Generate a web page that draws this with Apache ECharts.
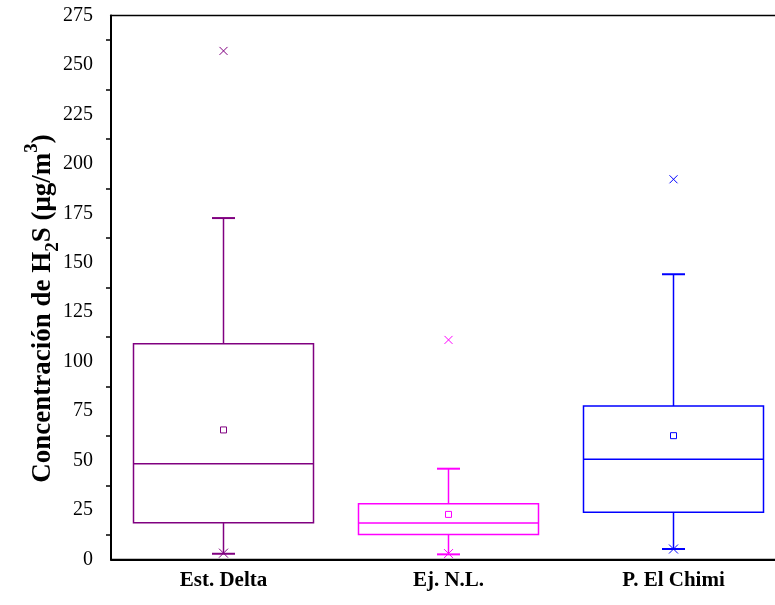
<!DOCTYPE html>
<html>
<head>
<meta charset="utf-8">
<script src="https://cdn.jsdelivr.net/npm/echarts@6/dist/echarts.min.js"></script>
<style>html,body{margin:0;padding:0;background:#fff;}#c{width:775px;height:605px;}</style>
</head>
<body>
<div id="c"></div>
<script>
const categories = ['Est. Delta', 'Ej. N.L.', 'P. El Chimi'];
const whiskerLow = [2.9, 2.6, 5.3];
const q1 = [18.6, 12.7, 23.9];
const median = [48.4, 18.5, 50.7];
const q3 = [109.1, 28.2, 77.6];
const whiskerHigh = [172.6, 45.9, 144.2];
const means = [65.5, 22.8, 62.6];
const outliers = [257.1, 111.0, 192.2];
const lowMarks = [3.2, 3.0, 5.3];
const yTicks = [0, 25, 50, 75, 100, 125, 150, 175, 200, 225, 250, 275];

const boxColors = ['#800080', '#FF00FF', '#0000FF'];
const serif = '"Liberation Serif", "Times New Roman", serif';

const data = categories.map((c, i) => [i, whiskerLow[i], q1[i], median[i], q3[i], whiskerHigh[i], means[i], outliers[i], lowMarks[i]]);

function renderItem(params, api) {
  const i = api.value(0);
  const col = boxColors[params.dataIndex];
  const x = api.coord([i, 0])[0];
  const y = k => api.coord([i, api.value(k)])[1];
  const yLo = y(1), yQ1 = y(2), yMed = y(3), yQ3 = y(4), yHi = y(5), yMean = y(6), yOut = y(7), yLowM = y(8);
  const bw = api.size([1, 0])[0] * 0.8;
  const cap = 11.5;
  const lw = 1.5;
  const st = {stroke: col, lineWidth: lw, fill: null};
  const line = (x1, y1, x2, y2, w) => ({type: 'line', shape: {x1, y1, x2, y2}, style: {stroke: col, lineWidth: w || lw}});
  const cross = (cx, cy, s) => [
    line(cx - s, cy - s, cx + s, cy + s, 1),
    line(cx - s, cy + s, cx + s, cy - s, 1)
  ];
  return {
    type: 'group',
    children: [
      {type: 'rect', shape: {x: x - bw / 2, y: yQ3, width: bw, height: yQ1 - yQ3}, style: st},
      line(x - bw / 2, yMed, x + bw / 2, yMed),
      line(x, yQ3, x, yHi),
      line(x, yQ1, x, yLo),
      line(x - cap, yHi, x + cap, yHi, 2),
      line(x - cap, yLo, x + cap, yLo, 2),
      {type: 'rect', shape: {x: x - 3, y: yMean - 3, width: 6, height: 6}, style: {stroke: col, lineWidth: 1, fill: null}},
      ...cross(x, yOut, 4),
      ...cross(x, yLowM, 4.5)
    ]
  };
}

const chart = echarts.init(document.getElementById('c'));
chart.setOption({
  animation: false,
  backgroundColor: '#fff',
  grid: {left: 111, top: 15.5, width: 675, bottom: 45.5, outerBoundsMode: 'none', containLabel: false,
    show: true, borderColor: '#000', borderWidth: 1.5, backgroundColor: 'transparent'},
  xAxis: {
    type: 'category',
    data: categories,
    boundaryGap: true,
    axisLine: {lineStyle: {color: '#000', width: 2}},
    axisTick: {alignWithLabel: true, length: 10, lineStyle: {color: '#000', width: 2}},
    axisLabel: {color: '#000', fontFamily: serif, fontWeight: 'bold', fontSize: 21, margin: 11},
    splitLine: {show: false}
  },
  yAxis: {
    type: 'value',
    min: 0, max: 275, interval: 25,
    axisLine: {show: true, lineStyle: {color: '#000', width: 2}},
    axisTick: {length: 9, lineStyle: {color: '#000', width: 1.5}},
    minorTick: {show: true, splitNumber: 2, length: 5, lineStyle: {color: '#000', width: 1.5}},
    axisLabel: {color: '#000', fontFamily: serif, fontSize: 20, margin: 18,
      formatter: v => yTicks.includes(v) ? String(v) : ''},
    splitLine: {show: false},
    name: '{n|Concentración de H}{sub|2}{n|S (μg/m}{sup|3}{n|)}',
    nameLocation: 'middle',
    nameGap: 48,
    nameMoveOverlap: false,
    nameRotate: 90,
    nameTextStyle: {
      padding: [0, 42, 0, 0],
      rich: {
        n: {fontFamily: serif, fontWeight: 'bold', fontSize: 27, color: '#000', lineHeight: 40, verticalAlign: 'middle'},
        sub: {fontFamily: serif, fontWeight: 'bold', fontSize: 19, color: '#000', lineHeight: 20, verticalAlign: 'bottom'},
        sup: {fontFamily: serif, fontWeight: 'bold', fontSize: 19, color: '#000', lineHeight: 20, verticalAlign: 'top'}
      }
    }
  },
  series: [{
    type: 'custom',
    renderItem: renderItem,
    encode: {x: 0, y: [1, 2, 3, 4, 5, 6, 7, 8]},
    data: data,
    clip: false
  }]
});
</script>
</body>
</html>
